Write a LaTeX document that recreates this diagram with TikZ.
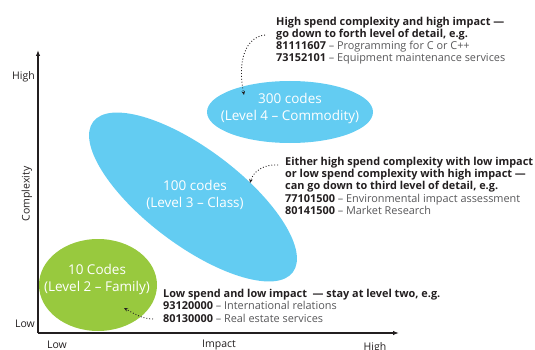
\documentclass[tikz,border=0pt]{standalone}
\usepackage{fontspec}
\setmainfont{Open Sans}
\usetikzlibrary{shapes.geometric,arrows.meta}
\definecolor{skyfill}{HTML}{63CCF2}
\definecolor{leaffill}{HTML}{98C93E}
\definecolor{inkdark}{HTML}{231F20}
\definecolor{inkgrey}{HTML}{58585A}
\begin{document}
\begin{tikzpicture}[x=1pt,y=-1pt,
  axis/.style={line width=1.3pt,inkdark,-{Latex[length=6pt,width=4.5pt]}},
  axislabel/.style={font=\fontsize{10.5}{12}\selectfont,text=inkdark,inner sep=0pt},
  blob/.style={ellipse,inner sep=0pt,draw=none},
  blobtext/.style={font=\fontsize{13.5}{17}\selectfont,text=white,align=center,inner sep=0pt},
  note/.style={font=\fontsize{10.9}{12.3}\selectfont,text=inkgrey,align=left,inner sep=0pt,anchor=base west},
  pointer/.style={inkdark,line width=0.9pt,dotted,-{Stealth[length=4pt,width=3.5pt]}}]
\useasboundingbox (0,0) rectangle (535,350);

% axes
\coordinate (origin) at (38,333);
\coordinate (ytop) at (38,50);
\coordinate (xend) at (399,333);
\draw[axis] (origin) -- (ytop);
\draw[axis] (origin) -- (xend);

\node[axislabel,anchor=base east] (yhigh) at (35,80) {High};
\node[axislabel,anchor=base east] (ylow) at (35,327) {Low};
\node[axislabel,rotate=90] (ytitle) at (27,194) {Complexity};
\node[axislabel,anchor=north] (xlow) at (57,341) {Low};
\node[axislabel,anchor=north] (xtitle) at (219,340) {Impact};
\node[axislabel,anchor=north] (xhigh) at (375,342) {High};

% levels: the filled ellipses, then their captions
\node[blob,fill=skyfill,minimum width=250pt,minimum height=96pt,rotate=-37] (classblob) at (193,197) {};
\node[blob,fill=skyfill,minimum width=166pt,minimum height=62pt] (commodity) at (290,112) {};
\node[blob,fill=leaffill,minimum width=118pt,minimum height=92pt] (family) at (98,285) {};
\node[blobtext] (classtext) at (195,195) {100 codes\\(Level 3 -- Class)};
\node[blobtext] (commoditytext) at (290,108) {300 codes\\(Level 4 -- Commodity)};
\node[blobtext] (familytext) at (97,279) {10 Codes\\(Level 2 -- Family)};

% explanations (placed by the baseline of their last line)
\node[note] (topnote) at (276,62) {\textbf{\color{inkdark}High spend complexity and high impact ---}\\
\textbf{\color{inkdark}go down to forth level of detail, e.g.}\\
\textbf{\color{inkdark}81111607} -- Programming for C or C++\\
\textbf{\color{inkdark}73152101} -- Equipment maintenance services};

\node[note] (midnote) at (285,214.5) {\textbf{\color{inkdark}Either high spend complexity with low impact}\\
\textbf{\color{inkdark}or low spend complexity with high impact ---}\\
\textbf{\color{inkdark}can go down to third level of detail, e.g.}\\
\textbf{\color{inkdark}77101500} -- Environmental impact assessment\\
\textbf{\color{inkdark}80141500} -- Market Research};

\node[note] (lownote) at (163,322) {\textbf{\color{inkdark}Low spend and low impact \ --- stay at level two, e.g.}\\
\textbf{\color{inkdark}93120000} -- International relations\\
\textbf{\color{inkdark}80130000} -- Real estate services};

% pointers
\coordinate (toptail) at (265,35);
\coordinate (tophead) at (244,95);
\coordinate (midtail) at (278,165);
\coordinate (midhead) at (250,183);
\coordinate (lowtail) at (153,319);
\coordinate (lowhead) at (124,308);
\draw[pointer] (toptail) .. controls (246,37) and (237,60) .. (tophead);
\draw[pointer] (midtail) .. controls (263,164) and (253,172) .. (midhead);
\draw[pointer] (lowtail) .. controls (142,319) and (133,313) .. (lowhead);
\end{tikzpicture}
\end{document}
